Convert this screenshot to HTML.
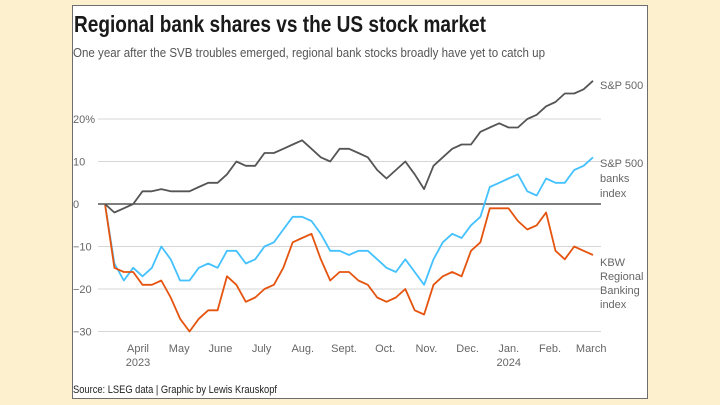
<!DOCTYPE html>
<html><head><meta charset="utf-8"><style>
html,body{margin:0;padding:0;background:#fdf0cf;}
svg{display:block;font-family:"Liberation Sans",sans-serif;}
</style></head><body>
<svg id="chart" width="720" height="405" viewBox="0 0 720 405">
<rect x="0" y="0" width="720" height="405" fill="#fdf0cf"/>
<rect x="72.5" y="5.5" width="575" height="393" fill="#fff" stroke="#6e6e6e" stroke-width="1"/>
<text x="74" y="32" font-size="23" font-weight="bold" fill="#1a1a1a" textLength="412" lengthAdjust="spacingAndGlyphs">Regional bank shares vs the US stock market</text>
<text x="73" y="57" font-size="13" fill="#555" textLength="472" lengthAdjust="spacingAndGlyphs">One year after the SVB troubles emerged, regional bank stocks broadly have yet to catch up</text>
<g id="grid"></g>
<g id="series"></g>
<g id="labels"></g>
<text x="600" y="89" font-size="11" fill="#666">S&amp;P 500</text>
<text font-size="11" fill="#666"><tspan x="600" y="167">S&amp;P 500</tspan><tspan x="600" y="182">banks</tspan><tspan x="600" y="197">index</tspan></text>
<text font-size="11" fill="#666"><tspan x="600" y="266">KBW</tspan><tspan x="600" y="280">Regional</tspan><tspan x="600" y="294">Banking</tspan><tspan x="600" y="308">index</tspan></text>
<text x="73" y="393" font-size="11" fill="#222" textLength="204" lengthAdjust="spacingAndGlyphs">Source: LSEG data | Graphic by Lewis Krauskopf</text>
</svg>
<script>
const sp500 = [0,-2,-1,0,3,3,3.5,3,3,3,4,5,5,7,10,9,9,12,12,13,14,15,13,11,10,13,13,12,11,8,6,8,10,7,3.5,9,11,13,14,14,17,18,19,18,18,20,21,23,24,26,26,27,29];
const banks = [0,-14,-18,-15,-17,-15,-10,-13,-18,-18,-15,-14,-15,-11,-11,-14,-13,-10,-9,-6,-3,-3,-4,-7,-11,-11,-12,-11,-11,-13,-15,-16,-13,-16,-19,-13,-9,-7,-8,-5,-3,4,5,6,7,3,2,6,5,5,8,9,11];
const kbw = [0,-15,-16,-16,-19,-19,-18,-22,-27,-30,-27,-25,-25,-17,-19,-23,-22,-20,-19,-15,-9,-8,-7,-13,-18,-16,-16,-18,-19,-22,-23,-22,-20,-25,-26,-19,-17,-16,-17,-11,-9,-1,-1,-1,-4,-6,-5,-2,-11,-13,-10,-11,-12];
const yTicks = [20,10,0,-10,-20,-30];
const yTickLabels = ["20%","10","0","\u221210","\u221220","\u221230"];
const months = ["April","May","June","July","Aug.","Sept.","Oct.","Nov.","Dec.","Jan.","Feb.","March"];
const yearLabels = {0:"2023",9:"2024"};

const NS="http://www.w3.org/2000/svg";
const X0=105, X1=593, nWeeks=sp500.length-1;
function xScale(i){return X0+(X1-X0)*i/nWeeks;}
function yScale(v){return 204-v*4.25;}
function monthX(m){return 138+m*41.2;}
function mk(tag,attrs,parent){const e=document.createElementNS(NS,tag);for(const k in attrs)e.setAttribute(k,attrs[k]);parent.appendChild(e);return e;}

const grid=document.getElementById('grid');
yTicks.forEach((t,k)=>{
  const ln=mk('line',{x1:98,x2:601,y1:yScale(t),y2:yScale(t),stroke:t===0?'#333':'#d6d6d6','stroke-width':t===0?1.2:1},grid);
  
  
  const tx=mk('text',{x:73,y:yScale(t)+4,'font-size':11,fill:'#666'},grid);
  tx.textContent=yTickLabels[k];
  
  
});
const labels=document.getElementById('labels');
months.forEach((m,k)=>{
  const tx=mk('text',{x:monthX(k),y:352,'font-size':11,fill:'#666','text-anchor':'middle'},labels);
  tx.textContent=m;
  
  
  if(yearLabels[k]){
    const yt=mk('text',{x:monthX(k),y:366,'font-size':11,fill:'#666','text-anchor':'middle'},labels);
    yt.textContent=yearLabels[k];
    
    
  }
});
const series=document.getElementById('series');
function drawLine(arr,color,name){
  const d=arr.map((v,i)=>(i?'L':'M')+xScale(i).toFixed(1)+','+yScale(v).toFixed(1)).join('');
  const p=mk('path',{d:d,fill:'none',stroke:color,'stroke-width':1.8,'stroke-linejoin':'round'},series);
  
  
}
drawLine(banks,'#44c1ff','sp500-banks-line');
drawLine(kbw,'#e5540e','kbw-line');
drawLine(sp500,'#555555','sp500-line');
</script>
</body></html>
